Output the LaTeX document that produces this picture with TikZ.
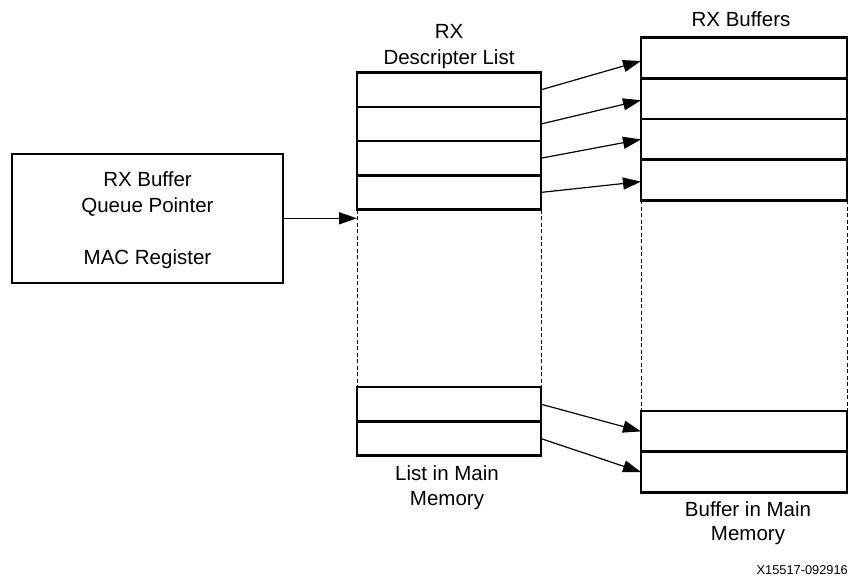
\documentclass[tikz,border=0pt]{standalone}
\usepackage{fontspec}
\setmainfont{Liberation Sans}
\usetikzlibrary{arrows.meta}
\begin{document}
\begin{tikzpicture}[x=1pt,y=-1pt,
  cell/.style={draw,line width=2.6pt,outer sep=0pt,inner sep=0pt},
  dcell/.style={cell,minimum width=184pt,minimum height=34.2pt},
  bcell/.style={cell,minimum width=206pt,minimum height=40.7pt},
  lbl/.style={anchor=base,inner sep=0pt,font=\fontsize{20.5}{24}\selectfont},
  ptr/.style={line width=1.2pt,-{Triangle[length=18pt,width=12pt]}},
  guide/.style={line width=0.9pt,dash pattern=on 4pt off 2.5pt}]
\useasboundingbox (0,0) rectangle (848,578);
% register box
\node[draw,line width=1.8pt,minimum width=271pt,minimum height=128.7pt,outer sep=0pt] (reg) at (147.5,218.3) {};
\node[lbl] (t1) at (147.5,186) {RX Buffer};
\node[lbl] (t2) at (147.5,212.7) {Queue Pointer};
\node[lbl] (t3) at (147.5,264) {MAC Register};
% descriptor list
\node[dcell] (d1) at (449,89.8) {};
\node[dcell] (d2) at (449,124) {};
\node[dcell] (d3) at (449,158.2) {};
\node[dcell] (d4) at (449,192.4) {};
\node[dcell] (d5) at (449,404.2) {};
\node[dcell] (d6) at (449,438.6) {};
% buffers
\node[bcell] (b1) at (744,58) {};
\node[bcell] (b2) at (744,98.7) {};
\node[bcell] (b3) at (744,139.4) {};
\node[bcell] (b4) at (744,180.1) {};
\node[bcell] (b5) at (744,431.4) {};
\node[bcell] (b6) at (744,472.1) {};
% dashed continuation
\draw[guide] (d4.south west) -- (d5.north west);
\draw[guide] (d4.south east) -- (d5.north east);
\draw[guide] (b4.south west) -- (b5.north west);
\draw[guide] (b4.south east) -- (b5.north east);
% pointers
\draw[ptr] (reg.east) -- (reg.east -| d4.west);
\draw[ptr] (d1.east) -- ([yshift=-3pt]b1.west);
\draw[ptr] (d2.east) -- ([yshift=-1.5pt]b2.west);
\draw[ptr] (d3.east) -- (b3.west);
\draw[ptr] (d4.east) -- ([yshift=-1.5pt]b4.west);
\draw[ptr] (d5.east) -- (b5.west);
\draw[ptr] (d6.east) -- (b6.west);
% labels
\node[lbl] (l1) at (449,38.5) {RX};
\node[lbl] (l2) at (449,64) {Descripter List};
\node[lbl] (l3) at (741,26.7) {RX Buffers};
\node[lbl] (l4) at (447,480) {List in Main};
\node[lbl] (l5) at (447,505) {Memory};
\node[lbl] (l6) at (748,516.7) {Buffer in Main};
\node[lbl] (l7) at (748,540) {Memory};
\node[anchor=base east,inner sep=0pt,font=\fontsize{12.8}{15}\selectfont] (fig) at (848,574) {X15517-092916};
\end{tikzpicture}
\end{document}
